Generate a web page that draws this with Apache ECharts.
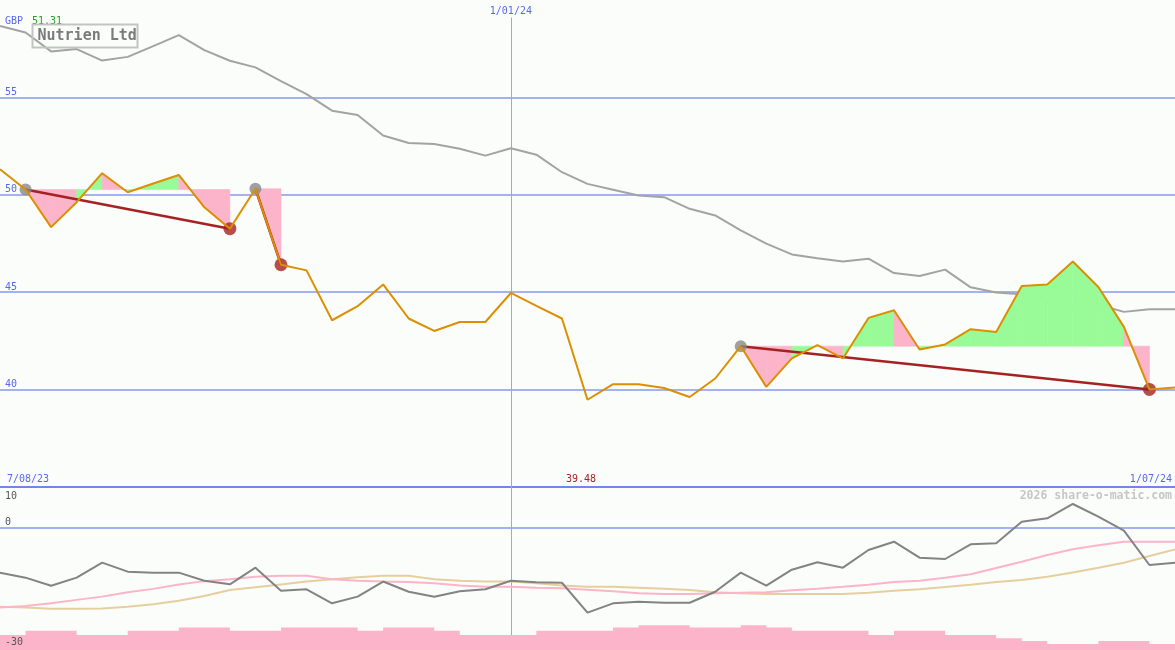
<!DOCTYPE html>
<html><head><meta charset="utf-8">
<script src="https://cdn.jsdelivr.net/npm/echarts@6/dist/echarts.min.js"></script>
<style>html,body{margin:0;padding:0;background:#fbfdfb}#c{width:1175px;height:650px}</style>
</head><body><div id="c"></div>
<script>
// ---------- data ----------
const weeks = ['14/08/23','21/08/23','28/08/23','4/09/23','11/09/23','18/09/23','25/09/23','2/10/23','9/10/23','16/10/23','23/10/23','30/10/23','6/11/23','13/11/23','20/11/23','27/11/23','4/12/23','11/12/23','18/12/23','25/12/23','1/01/24','8/01/24','15/01/24','22/01/24','29/01/24','5/02/24','12/02/24','19/02/24','26/02/24','4/03/24','11/03/24','18/03/24','25/03/24','1/04/24','8/04/24','15/04/24','22/04/24','29/04/24','6/05/24','13/05/24','20/05/24','27/05/24','3/06/24','10/06/24','17/06/24','24/06/24','1/07/24'];
const price = [51.31,50.27,48.34,49.62,51.11,50.13,50.58,51.02,49.36,48.26,50.31,46.41,46.12,43.56,44.28,45.40,43.65,43.01,43.47,43.47,44.96,44.30,43.65,39.48,40.28,40.28,40.08,39.62,40.57,42.23,40.14,41.60,42.28,41.60,43.68,44.07,42.06,42.32,43.10,42.96,45.32,45.39,46.58,45.27,43.22,40.01,40.11];
const compare = [58.67,58.33,57.36,57.48,56.89,57.08,57.63,58.20,57.43,56.88,56.54,55.84,55.17,54.32,54.10,53.04,52.66,52.61,52.36,52.01,52.39,52.06,51.16,50.56,50.26,49.96,49.88,49.28,48.94,48.17,47.49,46.94,46.74,46.58,46.72,45.98,45.83,46.16,45.25,44.99,44.89,44.50,44.24,44.36,43.99,44.12,44.12];
const osc = [-11.02,-12.25,-14.22,-12.25,-8.57,-10.78,-11.02,-11.02,-13.0,-13.88,-9.80,-15.45,-15.1,-18.55,-16.9,-13.2,-15.7,-16.92,-15.56,-15.1,-13.0,-13.4,-13.5,-20.84,-18.55,-18.14,-18.4,-18.4,-15.7,-11.02,-14.2,-10.3,-8.48,-9.8,-5.46,-3.42,-7.34,-7.67,-4.07,-3.82,1.49,2.31,5.83,2.72,-0.72,-9.14,-8.57];
const oscAvgFast = [-19.6,-19.2,-18.55,-17.7,-16.9,-15.85,-15.0,-13.9,-13.1,-12.65,-12.0,-11.77,-11.77,-12.65,-13.0,-13.2,-13.3,-13.6,-14.2,-14.46,-14.46,-14.7,-14.87,-15.2,-15.6,-16.1,-16.25,-16.25,-16.1,-15.95,-15.8,-15.35,-14.95,-14.5,-13.96,-13.3,-13.0,-12.25,-11.4,-9.88,-8.33,-6.69,-5.3,-4.3,-3.42,-3.42,-3.42];
const oscAvgSlow = [-19.4,-19.6,-19.9,-19.9,-19.8,-19.4,-18.8,-17.9,-16.75,-15.3,-14.6,-13.9,-13.2,-12.65,-12.16,-11.77,-11.77,-12.65,-13.0,-13.2,-13.2,-13.6,-14.2,-14.46,-14.5,-14.7,-14.95,-15.3,-15.85,-16.1,-16.25,-16.25,-16.25,-16.25,-15.93,-15.45,-15.1,-14.54,-13.96,-13.3,-12.8,-12.0,-11.0,-9.8,-8.57,-6.93,-5.3];
const volume = [-26.3,-25.26,-25.26,-26.3,-26.3,-25.26,-25.26,-24.5,-24.5,-25.26,-25.26,-24.5,-24.5,-24.5,-25.26,-24.5,-24.5,-25.26,-26.3,-26.3,-26.3,-25.26,-25.26,-25.26,-24.5,-23.9,-23.9,-24.5,-24.5,-23.9,-24.5,-25.3,-25.3,-25.3,-26.3,-25.3,-25.3,-26.3,-26.3,-27.1,-27.8,-28.5,-28.5,-27.8,-27.8,-28.5,-28.5];
const trendRuns = [[1, 9], [10, 11], [29, 45]]; // [peak index, trough index]
const priceTicks = [40, 45, 50, 55];
const lowerTicks = [10, 0, -30];
const titleText = 'Nutrien Ltd';
const currencyText = 'GBP';
const firstPriceText = '51.31';
const startDateText = '7/08/23';
const midDateText = '1/01/24';
const endDateText = '1/07/24';
const creditText = '2026 share-o-matic.com';

// ---------- styles ----------
const FONT = '"DejaVu Sans Mono", monospace';
const BLUE_TXT = '#5868f0';
const GRID_LINE = '#a4b2f2';
const VLINE = '#98a6f0';
const AXIS_LINE = '#7384f0';
const PINK = '#fbb4c9';
const GREEN = '#98fb98';
const DARKRED = '#a52222';
const ORANGE = '#dc8f00';

const midIndex = weeks.indexOf(midDateText);
const lowText = Math.min(...price).toFixed(2);

const fillData = [];
trendRuns.forEach(([a, b]) => {
  for (let i = a; i < b; i++) fillData.push([i, price[i], price[i + 1], price[a]]);
});

const chart = echarts.init(document.getElementById('c'), null, {renderer: 'canvas'});
chart.setOption({
  animation: false,
  backgroundColor: '#fbfdfb',
  grid: [
    {left: 0, right: 0, top: -1, height: 488},
    {left: 0, right: 0, top: 487, height: 163}
  ],
  xAxis: [
    {type: 'category', gridIndex: 0, data: weeks, boundaryGap: false,
     axisLine: {show: true, onZero: false, lineStyle: {color: AXIS_LINE, width: 2}},
     axisTick: {show: false}, axisLabel: {show: false}, splitLine: {show: false}},
    {type: 'category', gridIndex: 1, data: weeks, boundaryGap: false,
     axisLine: {show: false}, axisTick: {show: false}, axisLabel: {show: false}, splitLine: {show: false}}
  ],
  yAxis: [
    {type: 'value', gridIndex: 0, min: 35, max: 60, interval: 5,
     axisLine: {show: false}, axisTick: {show: false}, splitLine: {show: false},
     axisLabel: {inside: true, margin: 5, color: BLUE_TXT, fontFamily: FONT, fontSize: 10,
       verticalAlign: 'bottom', padding: [0, 0, 0, 0],
       formatter: v => priceTicks.includes(v) ? String(v) : ''}},
    {type: 'value', gridIndex: 1, min: -30, max: 10, interval: 10,
     axisLine: {show: false}, axisTick: {show: false}, splitLine: {show: false}, axisLabel: {show: false}}
  ],
  series: [
    {type: 'line', name: 'compare', xAxisIndex: 0, yAxisIndex: 0, data: compare, symbol: 'none',
     lineStyle: {color: '#a3a3a3', width: 2}, z: 2, silent: true,
     markLine: {silent: true, z: 1, symbol: ['none', 'none'], label: {show: false},
       lineStyle: {color: GRID_LINE, width: 2, type: 'solid'},
       data: priceTicks.map(v => ({yAxis: v}))}},
    {type: 'custom', name: 'fill', xAxisIndex: 0, yAxisIndex: 0, data: fillData, z: 3, silent: true,
     encode: {x: 0, y: 1},
     renderItem: (params, api) => {
       const i = api.value(0), v0 = api.value(1), v1 = api.value(2), base = api.value(3);
       const col = v1 >= base ? GREEN : PINK;
       return {type: 'polygon',
         shape: {points: [api.coord([i, base]), api.coord([i, v0]), api.coord([i + 1, v1]), api.coord([i + 1, base])]},
         style: {fill: col, stroke: col, lineWidth: 0.6}};
     }},
    {type: 'scatter', name: 'peaks', xAxisIndex: 0, yAxisIndex: 0, z: 4, silent: true,
     data: trendRuns.map(r => [r[0], price[r[0]]]), symbolSize: 12, itemStyle: {color: '#888888'},
     markLine: {silent: true, z: 4, symbol: ['none', 'none'], label: {show: false},
       lineStyle: {color: DARKRED, width: 2.5, type: 'solid'},
       data: trendRuns.map(([a, b]) => [{coord: [a, price[a]]}, {coord: [b, price[b]]}])}},
    {type: 'scatter', name: 'troughs', xAxisIndex: 0, yAxisIndex: 0, z: 5, silent: true,
     data: trendRuns.map(r => [r[1], price[r[1]]]), symbolSize: 13, itemStyle: {color: DARKRED},
     markLine: {silent: true, z: 1, symbol: ['none', 'none'],
       lineStyle: {color: VLINE, width: 1, type: 'solid'},
       label: {show: true, position: 'start', distance: 1, formatter: midDateText,
               color: BLUE_TXT, fontFamily: FONT, fontSize: 10},
       data: [[{coord: [midIndex, 59.1]}, {coord: [midIndex, 35]}]]}},
    {type: 'line', name: 'price', xAxisIndex: 0, yAxisIndex: 0, data: price, symbol: 'none', z: 6, silent: true,
     lineStyle: {color: ORANGE, width: 2}},

    {type: 'line', name: 'oscSlow', xAxisIndex: 1, yAxisIndex: 1, data: oscAvgSlow, symbol: 'none', z: 2, silent: true,
     lineStyle: {color: '#e6cf9e', width: 2},
     markLine: {silent: true, z: 1, symbol: ['none', 'none'], label: {show: false},
       lineStyle: {color: GRID_LINE, width: 2, type: 'solid'},
       data: [{yAxis: 0}]}},
    {type: 'line', name: 'oscFast', xAxisIndex: 1, yAxisIndex: 1, data: oscAvgFast, symbol: 'none', z: 3, silent: true,
     lineStyle: {color: '#fcb4c8', width: 2},
     markLine: {silent: true, z: 1, symbol: ['none', 'none'], label: {show: false},
       lineStyle: {color: VLINE, width: 1, type: 'solid'},
       data: [{xAxis: midIndex}]}},
    {type: 'line', name: 'osc', xAxisIndex: 1, yAxisIndex: 1, data: osc, symbol: 'none', z: 4, silent: true,
     lineStyle: {color: '#838383', width: 2}},
    {type: 'line', name: 'volume', xAxisIndex: 1, yAxisIndex: 1, data: volume, symbol: 'none', step: 'end', z: 5, silent: true,
     lineStyle: {width: 0, color: PINK}, areaStyle: {color: PINK, opacity: 1, origin: 'start'}}
  ],
  graphic: {elements: [
    {type: 'text', x: 5, y: 21, z: 100, silent: true,
     style: {text: currencyText, fill: BLUE_TXT, font: '10px ' + FONT, textVerticalAlign: 'middle'}},
    {type: 'text', x: 32, y: 21, z: 100, silent: true,
     style: {text: firstPriceText, fill: '#1fa01f', font: '10px ' + FONT, textVerticalAlign: 'middle'}},
    {type: 'rect', shape: {x: 32.5, y: 24.5, width: 105, height: 23}, z: 100, silent: true,
     style: {fill: 'none', stroke: '#c3c3c3', lineWidth: 2}},
    {type: 'text', x: 37.5, y: 36.5, z: 100, silent: true,
     style: {text: titleText, fill: '#7b7b7b', font: 'bold 15px ' + FONT, textVerticalAlign: 'middle'}},
    {type: 'text', x: 7, y: 479, z: 100, silent: true,
     style: {text: startDateText, fill: BLUE_TXT, font: '10px ' + FONT, textVerticalAlign: 'middle'}},
    {type: 'text', x: 1172, y: 479, z: 100, silent: true,
     style: {text: endDateText, fill: BLUE_TXT, font: '10px ' + FONT, textAlign: 'right', textVerticalAlign: 'middle'}},
    {type: 'text', x: 581, y: 479, z: 100, silent: true,
     style: {text: lowText, fill: DARKRED, font: '10px ' + FONT, textAlign: 'center', textVerticalAlign: 'middle'}},
    {type: 'text', x: 1172, y: 496, z: 100, silent: true,
     style: {text: creditText, fill: '#c6c6c6', font: 'bold 11.5px ' + FONT, textAlign: 'right', textVerticalAlign: 'middle'}},
    {type: 'text', x: 5, y: 496, z: 100, silent: true,
     style: {text: String(lowerTicks[0]), fill: '#555', font: '10px ' + FONT, textVerticalAlign: 'middle'}},
    {type: 'text', x: 5, y: 522, z: 100, silent: true,
     style: {text: String(lowerTicks[1]), fill: '#555', font: '10px ' + FONT, textVerticalAlign: 'middle'}},
    {type: 'text', x: 5, y: 642, z: 100, silent: true,
     style: {text: String(lowerTicks[2]), fill: '#555', font: '10px ' + FONT, textVerticalAlign: 'middle'}}
  ]}
});
</script>
</body></html>
